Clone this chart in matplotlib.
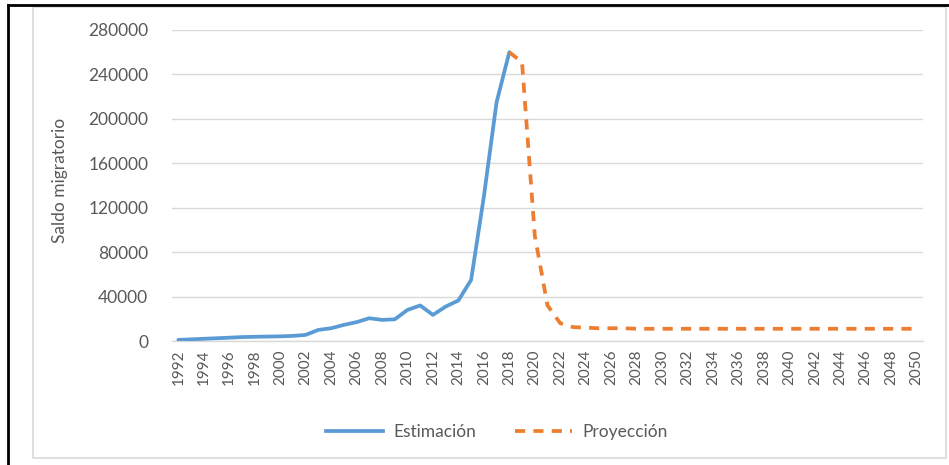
import matplotlib
matplotlib.use("Agg")
import matplotlib.pyplot as plt
from matplotlib.patches import Rectangle
from matplotlib.lines import Line2D

plt.rcParams['font.family'] = ['Lato', 'DejaVu Sans']

# saldo migratorio estimado
years_est = list(range(1992, 2019))
saldo_est = [1000, 1500, 2000, 2500, 3000, 3500, 3800, 4000, 4200, 4600,
             5500, 10000, 11500, 14500, 17000, 20500, 19000, 19500, 28000, 32000,
             23500, 31000, 36500, 55000, 130000, 215000, 260000]

# saldo migratorio proyectado
years_proj = list(range(2018, 2051))
saldo_proj = [260000, 251000, 95000, 32000, 16000, 12500, 12000, 11500, 11500, 11500,
              11000, 11000, 11000, 11000, 11000, 11000, 11000, 11000, 11000, 11000,
              11000, 11000, 11000, 11000, 11000, 11000, 11000, 11000, 11000, 11000,
              11000, 11000, 11000]

y_ticks = [0, 40000, 80000, 120000, 160000, 200000, 240000, 280000]
x_ticks = list(range(1992, 2051, 2))

blue = '#5B9BD5'
orange = '#ED7D31'
text_gray = '#595959'
grid_gray = '#D9D9D9'
lw = 2.7
dash = (2.7, 2.2)

W, H = 949, 465
fig = plt.figure(figsize=(W / 100, H / 100), dpi=100)
ax = fig.add_axes([172 / W, 1 - 341 / H, (923 - 172) / W, (341 - 30) / H])

ax.plot(years_est, saldo_est, color=blue, lw=lw, solid_capstyle='round',
        solid_joinstyle='round', label='Estimación', zorder=3)
ax.plot(years_proj, saldo_proj, color=orange, lw=lw, dashes=dash,
        label='Proyección', zorder=3)

ax.set_xlim(1991.5, 2050.5)
ax.set_ylim(0, 280000)
ax.set_yticks(y_ticks)
ax.set_yticklabels([str(v) for v in y_ticks])
ax.set_xticks(x_ticks)
ax.set_xticklabels([str(v) for v in x_ticks], rotation=90)
ax.tick_params(axis='y', length=0, pad=17, labelsize=12.5, labelcolor=text_gray)
ax.tick_params(axis='x', length=0, pad=6, labelsize=11, labelcolor=text_gray)
ax.grid(axis='y', color=grid_gray, lw=1)
ax.set_axisbelow(True)
for s in ['top', 'right', 'left']:
    ax.spines[s].set_visible(False)
ax.spines['bottom'].set_color(grid_gray)
ax.spines['bottom'].set_linewidth(1)

fig.text(60 / W, 1 - 180 / H, 'Saldo migratorio', rotation=90, ha='center',
         va='center', fontsize=12.5, color=text_gray)

handles = [Line2D([], [], color=blue, lw=lw),
           Line2D([], [], color=orange, lw=lw, dashes=dash)]
fig.legend(handles, ['Estimación', 'Proyección'], loc='center',
           bbox_to_anchor=(497 / W, 1 - 432 / H), ncol=2, frameon=False,
           fontsize=12.5, labelcolor=text_gray, handlelength=3.3,
           columnspacing=2.2, handletextpad=0.6)

# marco del gráfico
fig.patches.append(Rectangle((33 / W, 1 - 458 / H), (946 - 33) / W, (458 - 7) / H,
                             transform=fig.transFigure, fill=False,
                             edgecolor='#D9D9D9', lw=1.2))
fig.lines.append(Line2D([8 / W, 1], [1 - 5 / H, 1 - 5 / H], transform=fig.transFigure,
                        color='black', lw=2))
fig.lines.append(Line2D([8 / W, 8 / W], [0, 1 - 5 / H], transform=fig.transFigure,
                        color='black', lw=2))

fig.savefig('out.png', dpi=100)
